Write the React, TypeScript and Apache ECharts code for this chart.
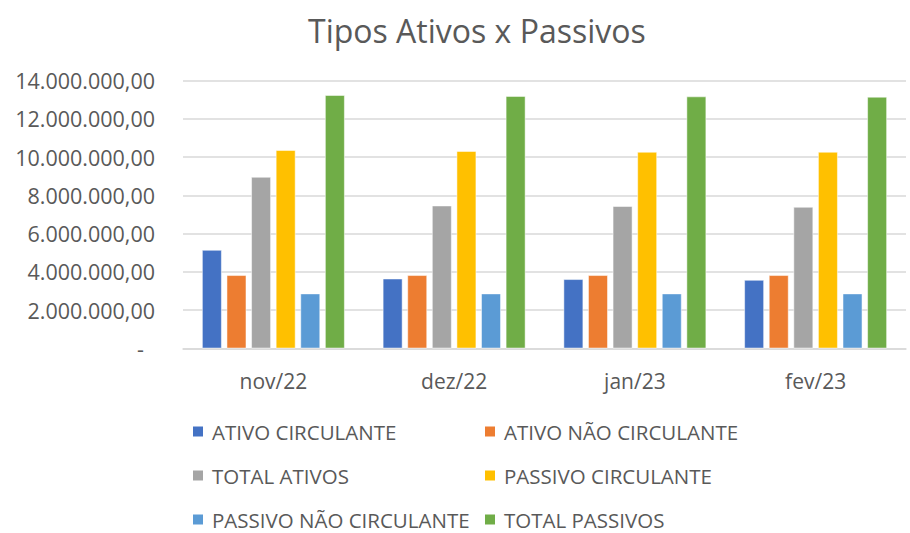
import React, { useEffect, useRef } from "react";
import * as echarts from "echarts";

const categories = ["nov/22", "dez/22", "jan/23", "fev/23"];
const seriesNames = [
  "ATIVO CIRCULANTE",
  "ATIVO NÃO CIRCULANTE",
  "TOTAL ATIVOS",
  "PASSIVO CIRCULANTE",
  "PASSIVO NÃO CIRCULANTE",
  "TOTAL PASSIVOS",
];
const ativoCirculante = [5140000, 3640000, 3610000, 3570000];
const ativoNaoCirculante = [3820000, 3820000, 3820000, 3820000];
const totalAtivos = [8960000, 7460000, 7430000, 7390000];
const passivoCirculante = [10360000, 10310000, 10270000, 10270000];
const passivoNaoCirculante = [2860000, 2860000, 2860000, 2860000];
const totalPassivos = [13240000, 13190000, 13170000, 13150000];
const seriesValues = [
  ativoCirculante,
  ativoNaoCirculante,
  totalAtivos,
  passivoCirculante,
  passivoNaoCirculante,
  totalPassivos,
];
const colors = ["#4472C4", "#ED7D31", "#A5A5A5", "#FFC000", "#5B9BD5", "#70AD47"];

const FONT = "Open Sans";
const TEXT = "#595959";

function fmt(v: number): string {
  const int = Math.round(v).toString();
  const withDots = int.replace(/\B(?=(\d{3})+(?!\d))/g, ".");
  return withDots + ",00";
}

export default function App() {
  const ref = useRef<HTMLDivElement>(null);
  useEffect(() => {
    if (!ref.current) return;
    const chart = echarts.init(ref.current, undefined, { renderer: "svg" });
    const legendPos = [
      { left: 191, top: 421 },
      { left: 483, top: 421 },
      { left: 191, top: 465 },
      { left: 483, top: 465 },
      { left: 191, top: 509 },
      { left: 483, top: 509 },
    ];
    chart.setOption({
      animation: false,
      backgroundColor: "#ffffff",
      title: {
        text: "Tipos Ativos x Passivos",
        left: 303,
        top: 9,
        textStyle: { fontFamily: FONT, fontSize: 32, fontWeight: "normal", color: TEXT },
      },
      legend: seriesNames.map((n, i) => ({
        data: [n],
        left: legendPos[i].left,
        top: legendPos[i].top,
        itemWidth: 12,
        itemHeight: 12,
        itemGap: 8,
        padding: 0,
        icon: "rect",
        textStyle: { fontFamily: FONT, fontSize: 20.5, color: TEXT, padding: [0, 0, 0, 3] },
      })),
      grid: { left: 183, right: 4, top: 80.7, bottom: 184.7, containLabel: false },
      xAxis: {
        type: "category",
        data: categories,
        axisLine: { lineStyle: { color: "#D9D9D9", width: 1.5 } },
        axisTick: { show: false },
        axisLabel: { fontFamily: FONT, fontSize: 21, color: TEXT, margin: 22 },
      },
      yAxis: {
        type: "value",
        min: 0,
        max: 14000000,
        interval: 2000000,
        axisLine: { show: false },
        axisTick: { show: false },
        splitLine: { lineStyle: { color: "#D9D9D9", width: 1.5 } },
        axisLabel: {
          fontFamily: FONT,
          fontSize: 21.5,
          color: TEXT,
          margin: 28,
          formatter: (v: number) => (v === 0 ? "{d|-}" : fmt(v)),
          rich: { d: { fontFamily: FONT, fontSize: 21.5, color: TEXT, padding: [0, 11, 0, 0] } },
        },
      },
      series: seriesNames.map((n, i) => ({
        name: n,
        type: "bar",
        data: seriesValues[i],
        barWidth: "10.8%",
        barGap: "26%",
        itemStyle: { color: colors[i], borderColor: "#ffffff", borderWidth: 0.5 },
      })),
    });
    return () => chart.dispose();
  }, []);
  return (
    <div
      ref={ref}
      style={{ position: "absolute", left: 0, top: 0, width: 910, height: 533 }}
    />
  );
}
